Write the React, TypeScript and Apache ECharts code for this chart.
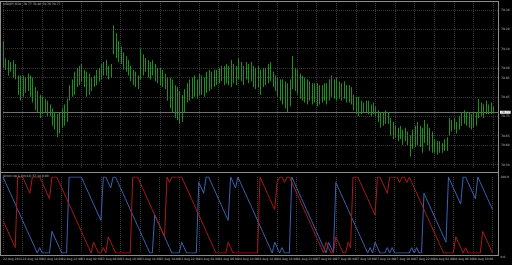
import React, { useEffect, useRef } from "react";
import * as echarts from "echarts";

// ---- data (USDJPY, M30) ----
const HIGH = [
  79.14, 79.05, 79.04, 79.03, 79.04, 79.02, 78.96, 78.96, 78.96, 78.95,
  78.97, 78.96, 78.95, 78.90, 78.88, 78.86, 78.85, 78.84, 78.83, 78.81,
  78.79, 78.77, 78.76, 78.77, 78.79, 78.81, 78.84, 78.91, 78.94, 78.98,
  79.00, 79.01, 79.02, 78.99, 78.98, 78.97, 78.95, 78.96, 78.99, 79.00,
  79.02, 79.03, 79.04, 79.01, 79.02, 79.22, 79.18, 79.14, 79.11, 79.08,
  79.06, 79.04, 79.01, 78.99, 78.98, 78.96, 79.10, 79.07, 79.05, 79.04,
  79.03, 79.04, 79.02, 79.00, 79.00, 78.99, 78.97, 78.95, 78.95, 78.94,
  78.91, 78.90, 78.88, 78.86, 78.89, 78.92, 78.94, 78.95, 78.96, 78.94,
  78.97, 78.96, 78.95, 78.98, 78.99, 78.98, 78.99, 78.99, 79.00, 79.01,
  79.01, 79.02, 79.01, 79.04, 79.02, 79.01, 79.05, 79.03, 79.01, 79.03,
  79.02, 79.03, 79.01, 79.00, 79.01, 78.99, 79.00, 79.00, 79.02, 79.03,
  78.98, 78.96, 78.95, 78.94, 78.94, 78.93, 78.92, 78.94, 79.06, 79.00,
  78.99, 78.97, 78.96, 78.95, 78.94, 78.93, 78.92, 78.92, 78.92, 78.91,
  78.91, 78.92, 78.92, 78.94, 78.96, 78.94, 78.95, 78.93, 78.92, 78.93,
  78.91, 78.91, 78.90, 78.86, 78.85, 78.85, 78.83, 78.82, 78.83, 78.83,
  78.81, 78.82, 78.80, 78.78, 78.77, 78.77, 78.78, 78.77, 78.74, 78.72,
  78.70, 78.69, 78.70, 78.68, 78.69, 78.67, 78.65, 78.68, 78.70, 78.72,
  78.70, 78.69, 78.73, 78.71, 78.69, 78.67, 78.63, 78.62, 78.62, 78.61,
  78.63, 78.64, 78.74, 78.73, 78.74, 78.72, 78.75, 78.77, 78.78, 78.77,
  78.77, 78.76, 78.77, 78.77, 78.84, 78.82, 78.81, 78.83, 78.81, 78.82,
  78.80,
];
const LOW = [
  79.00, 78.99, 78.96, 78.98, 78.95, 78.94, 78.86, 78.83, 78.85, 78.87,
  78.88, 78.85, 78.82, 78.78, 78.77, 78.74, 78.76, 78.77, 78.75, 78.75,
  78.70, 78.68, 78.64, 78.66, 78.69, 78.70, 78.72, 78.83, 78.85, 78.86,
  78.90, 78.91, 78.93, 78.90, 78.85, 78.86, 78.88, 78.90, 78.91, 78.93,
  78.94, 78.96, 78.96, 78.94, 78.95, 79.07, 79.05, 79.03, 79.02, 78.99,
  78.98, 78.96, 78.93, 78.91, 78.90, 78.89, 78.94, 78.96, 78.98, 78.95,
  78.94, 78.96, 78.93, 78.92, 78.91, 78.90, 78.89, 78.83, 78.79, 78.77,
  78.74, 78.73, 78.71, 78.72, 78.77, 78.82, 78.83, 78.84, 78.85, 78.84,
  78.86, 78.86, 78.85, 78.87, 78.88, 78.89, 78.90, 78.91, 78.92, 78.93,
  78.91, 78.92, 78.91, 78.90, 78.92, 78.91, 78.94, 78.93, 78.91, 78.94,
  78.92, 78.93, 78.90, 78.89, 78.90, 78.86, 78.90, 78.91, 78.92, 78.93,
  78.90, 78.88, 78.85, 78.83, 78.81, 78.79, 78.77, 78.80, 78.89, 78.88,
  78.86, 78.84, 78.83, 78.82, 78.81, 78.83, 78.81, 78.82, 78.80, 78.81,
  78.82, 78.83, 78.81, 78.83, 78.85, 78.84, 78.83, 78.84, 78.83, 78.84,
  78.82, 78.82, 78.81, 78.78, 78.76, 78.75, 78.76, 78.77, 78.77, 78.76,
  78.75, 78.76, 78.75, 78.72, 78.69, 78.70, 78.71, 78.71, 78.65, 78.63,
  78.64, 78.62, 78.63, 78.60, 78.62, 78.60, 78.54, 78.58, 78.59, 78.60,
  78.59, 78.56, 78.61, 78.60, 78.57, 78.56, 78.56, 78.55, 78.56, 78.56,
  78.57, 78.57, 78.65, 78.67, 78.68, 78.66, 78.68, 78.70, 78.71, 78.70,
  78.69, 78.68, 78.69, 78.70, 78.74, 78.75, 78.74, 78.76, 78.76, 78.76,
  78.77,
];
const AROON_UP = [
  100, 92.9, 85.7, 78.6, 71.4, 64.3, 57.1, 50, 42.9, 35.7, 28.6, 21.4, 14.3, 7.1, 0,
  7.1, 0, 0, 0, 0,
  28.6, 21.4, 14.3, 7.1, 0, 0, 0,
  100, 100, 100, 100, 100, 100,
  92.9, 85.7, 78.6, 71.4, 64.3, 57.1, 50, 42.9,
  100, 100, 92.9, 85.7, 100, 100,
  92.9, 85.7, 78.6, 71.4, 64.3, 57.1, 50, 42.9, 35.7, 28.6, 21.4, 14.3, 7.1, 0,
  0,
  50, 42.9, 35.7, 28.6, 21.4, 14.3, 7.1,
  0, 0, 0, 0, 14.3, 7.1, 0, 0, 0, 0, 0,
  92.9, 85.7, 78.6, 100, 100,
  92.9, 85.7, 78.6, 71.4, 64.3, 57.1, 50, 42.9,
  100, 92.9, 85.7, 100,
  92.9, 85.7, 78.6, 71.4, 64.3, 57.1, 50, 42.9, 35.7, 28.6, 21.4, 14.3, 7.1, 0,
  14.3, 7.1, 0, 7.1, 0, 0, 0,
  100,
  92.9, 85.7, 78.6, 71.4, 64.3, 57.1, 50, 42.9, 35.7, 28.6, 21.4, 14.3, 7.1, 0,
  14.3, 7.1, 0,
  92.9,
  85.7, 78.6, 71.4, 64.3, 57.1, 50, 42.9, 35.7, 28.6, 21.4, 14.3, 7.1, 0,
  7.1, 0, 14.3, 7.1, 0, 0, 0, 7.1, 0, 7.1, 0, 0, 0, 0, 0, 0, 0, 7.1, 0, 7.1, 0, 0,
  78.6, 71.4, 64.3, 57.1, 50, 42.9, 35.7, 28.6, 21.4, 14.3,
  100, 92.9, 85.7, 78.6, 71.4, 64.3,
  100, 100, 92.9, 85.7, 78.6, 71.4,
  100, 92.9, 85.7, 78.6, 71.4, 64.3, 57.1,
];
const AROON_DOWN = [
  42.9, 35.7, 28.6, 21.4, 14.3, 7.1,
  100, 100, 100,
  92.9, 85.7, 78.6,
  100, 100, 100, 100,
  92.9, 85.7, 78.6, 71.4,
  100, 100, 100,
  92.9, 85.7, 78.6, 71.4, 64.3, 57.1, 50, 42.9, 35.7, 28.6, 21.4, 14.3, 7.1, 0,
  14.3, 7.1, 0, 0, 7.1, 0, 21.4, 14.3, 7.1, 0,
  0, 0, 0, 0, 0, 0,
  100, 100, 100,
  92.9, 85.7, 78.6, 71.4, 64.3, 57.1, 50, 42.9, 35.7, 28.6, 21.4,
  100, 92.9, 100, 100, 100, 100, 100,
  92.9, 85.7, 78.6, 71.4, 64.3, 57.1, 50, 42.9, 35.7, 28.6, 21.4, 14.3, 7.1, 0,
  0, 0, 0, 0,
  14.3, 7.1, 0,
  0, 0, 0, 0, 0, 0, 0, 0, 0, 0,
  100, 92.9, 85.7, 78.6, 71.4, 64.3, 57.1,
  92.9, 100, 100, 92.9, 100, 100,
  92.9, 85.7, 78.6, 71.4, 64.3, 57.1, 50, 42.9, 35.7, 28.6, 21.4, 14.3, 7.1, 0,
  14.3, 7.1, 0, 0,
  21.4, 14.3, 7.1, 0, 0, 14.3, 7.1,
  100, 100, 100,
  92.9, 85.7, 78.6, 71.4, 64.3, 57.1, 50,
  100, 100, 92.9, 85.7, 78.6, 100, 100, 100, 100, 92.9, 100, 100, 92.9, 100,
  92.9, 85.7, 78.6, 71.4, 64.3, 57.1, 50, 42.9, 35.7, 28.6, 21.4, 14.3, 7.1, 0,
  0, 0, 0, 0,
  21.4, 14.3, 7.1, 0, 7.1, 0,
  0, 0, 0, 0, 0,
  28.6, 21.4, 14.3, 7.1, 0,
];
const TIME_LABELS = [
  "22 Aug 2012", "22 Aug 14:00", "22 Aug 18:00", "22 Aug 22:00",
  "23 Aug 02:00", "23 Aug 06:00", "23 Aug 10:00", "23 Aug 14:00", "23 Aug 18:00", "23 Aug 22:00",
  "24 Aug 02:00", "24 Aug 06:00", "24 Aug 10:00", "24 Aug 14:00", "24 Aug 18:00", "24 Aug 22:00",
  "27 Aug 02:00", "27 Aug 06:00", "27 Aug 10:00", "27 Aug 14:00", "27 Aug 18:00", "27 Aug 22:00",
  "28 Aug 02:00", "28 Aug 06:00", "28 Aug 10:00", "28 Aug 14:00",
];
const PRICE_TICKS = [79.3, 79.2, 79.1, 79.0, 78.95, 78.85, 78.75, 78.65, 78.6, 78.5];
const INDICATOR_TICKS = [0, 100];
const LAST_PRICE = 78.77;
const PRICE_MIN = 78.481;
const PRICE_MAX = 79.336;
const TITLE = "USDJPY,M30  78.77 78.80 78.76 78.77";
const AROON_TITLE = "Aroon Up & Dn(14) 57.14 0.00";

const LABEL_STEP = 8;
const EXTRA_SLOTS = 2;

const BG = "#000000";
const GRID_COLOR = "#363636";
const FRAME_COLOR = "#8c8c8c";
const TEXT_COLOR = "#c0c0c0";
const BAR_COLOR = "#1c901c";
const UP_COLOR = "#3d62b0";
const DOWN_COLOR = "#a81a1a";
const FONT = "DejaVu Sans";

export default function App() {
  const ref = useRef<HTMLDivElement>(null);

  useEffect(() => {
    if (!ref.current) return;
    const chart = echarts.init(ref.current, undefined, { renderer: "svg" });
    const n = HIGH.length;
    const cats = Array.from({ length: n + EXTRA_SLOTS }, (_, i) => String(i));
    const barData = HIGH.map((h, i) => [i, LOW[i], h]);

    const xBase: any = {
      type: "category",
      data: cats,
      boundaryGap: false,
      axisLine: { show: false },
      axisTick: { show: false },
      splitLine: {
        show: true,
        interval: LABEL_STEP - 1,
        lineStyle: { color: GRID_COLOR, type: [1, 1], width: 1 },
      },
    };

    const gridLines = PRICE_TICKS.map((v) => ({
      yAxis: v,
      lineStyle: { color: GRID_COLOR, type: [1, 1], width: 1 },
      label: {
        show: true,
        position: "end",
        distance: 3,
        formatter: v.toFixed(2),
        color: TEXT_COLOR,
        fontSize: 3,
        fontFamily: FONT,
      },
    }));

    chart.setOption({
      animation: false,
      backgroundColor: BG,
      grid: [
        { left: 3, right: 14, top: 3, height: 165 },
        { left: 3, right: 14, top: 177, height: 76 },
      ],
      xAxis: [
        { ...xBase, gridIndex: 0, axisLabel: { show: false } },
        {
          ...xBase,
          gridIndex: 1,
          axisLabel: {
            show: true,
            interval: LABEL_STEP - 1,
            align: "left",
            margin: 4,
            color: TEXT_COLOR,
            fontSize: 3,
            fontFamily: FONT,
            formatter: (_v: string, idx: number) => TIME_LABELS[idx / LABEL_STEP] ?? "",
          },
        },
      ],
      yAxis: [
        {
          type: "value",
          gridIndex: 0,
          position: "right",
          min: PRICE_MIN,
          max: PRICE_MAX,
          axisLine: { show: false },
          axisTick: { show: false },
          splitLine: { show: false },
          axisLabel: { show: false },
        },
        {
          type: "value",
          gridIndex: 1,
          position: "right",
          min: 0,
          max: 100,
          axisLine: { show: false },
          axisTick: { show: false },
          splitLine: { show: false },
          axisLabel: {
            show: true,
            customValues: INDICATOR_TICKS,
            margin: 3,
            color: TEXT_COLOR,
            fontSize: 3,
            fontFamily: FONT,
            formatter: (v: number) => (v === 0 ? "{lo|0.0}" : "{hi|100.0}"),
            rich: {
              lo: { fontSize: 3, color: TEXT_COLOR, fontFamily: FONT, padding: [7, 0, 0, 0] },
              hi: { fontSize: 3, color: TEXT_COLOR, fontFamily: FONT, padding: [0, 0, 1, 0] },
            },
          },
        },
      ],
      series: [
        {
          type: "custom",
          name: "USDJPY",
          xAxisIndex: 0,
          yAxisIndex: 0,
          z: 3,
          data: barData,
          encode: { x: 0, y: [1, 2] },
          renderItem: (_params: any, api: any) => {
            const i = api.value(0);
            const lo = api.coord([i, api.value(1)]);
            const hi = api.coord([i, api.value(2)]);
            const x = Math.round(lo[0]) + 0.5;
            return {
              type: "line",
              shape: { x1: x, y1: lo[1], x2: x, y2: hi[1] },
              style: { stroke: BAR_COLOR, lineWidth: 1 },
            };
          },
          markLine: {
            silent: true,
            symbol: ["none", "none"],
            z: 1,
            data: [
              ...gridLines,
              {
                yAxis: LAST_PRICE,
                lineStyle: { color: "#707070", type: "solid", width: 1 },
                label: {
                  show: true,
                  position: "end",
                  distance: 2,
                  formatter: LAST_PRICE.toFixed(2),
                  color: "#000",
                  backgroundColor: "#ffffff",
                  padding: [0, 1],
                  fontSize: 3,
                  fontFamily: FONT,
                },
              },
            ],
          },
        },
        {
          type: "line",
          name: "Aroon Up",
          xAxisIndex: 1,
          yAxisIndex: 1,
          data: AROON_UP,
          showSymbol: false,
          symbol: "none",
          lineStyle: { color: UP_COLOR, width: 1 },
          z: 3,
        },
        {
          type: "line",
          name: "Aroon Down",
          xAxisIndex: 1,
          yAxisIndex: 1,
          data: AROON_DOWN,
          showSymbol: false,
          symbol: "none",
          lineStyle: { color: DOWN_COLOR, width: 1 },
          z: 4,
        },
      ],
      graphic: [
        { type: "line", shape: { x1: 0, y1: 1.5, x2: 498.5, y2: 1.5 }, style: { stroke: FRAME_COLOR, lineWidth: 1 }, z: 10 },
        { type: "line", shape: { x1: 0.5, y1: 1, x2: 0.5, y2: 256 }, style: { stroke: FRAME_COLOR, lineWidth: 1 }, z: 10 },
        { type: "line", shape: { x1: 498.5, y1: 1, x2: 498.5, y2: 256 }, style: { stroke: FRAME_COLOR, lineWidth: 1 }, z: 10 },
        { type: "line", shape: { x1: 0, y1: 172.5, x2: 498.5, y2: 172.5 }, style: { stroke: FRAME_COLOR, lineWidth: 1 }, z: 10 },
        { type: "line", shape: { x1: 0, y1: 255.5, x2: 498.5, y2: 255.5 }, style: { stroke: FRAME_COLOR, lineWidth: 1 }, z: 10 },
        { type: "text", x: 3, y: 2.5, style: { text: TITLE, fill: TEXT_COLOR, fontSize: 3, fontFamily: FONT }, z: 10 },
        { type: "text", x: 3, y: 174.5, style: { text: AROON_TITLE, fill: TEXT_COLOR, fontSize: 3, fontFamily: FONT }, z: 10 },
      ],
    });

    return () => chart.dispose();
  }, []);

  return (
    <div
      ref={ref}
      style={{ position: "fixed", left: 0, top: 0, width: 512, height: 265, background: BG }}
    />
  );
}
